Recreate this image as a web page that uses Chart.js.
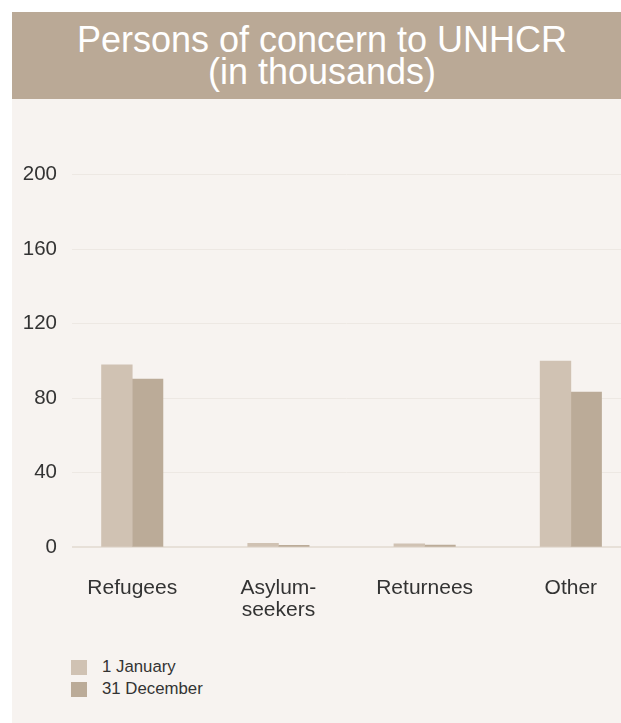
<!DOCTYPE html>
<html>
<head>
<meta charset="utf-8">
<script src="https://cdn.jsdelivr.net/npm/chart.js@4"></script>
<style>
body{margin:0;background:#fff;width:621px;height:723px;overflow:hidden;font-family:"Liberation Sans",Arial,sans-serif;}
#panel{position:absolute;left:12px;top:12px;width:609px;height:711px;background:#f7f3f0;}
#title{height:87px;background:#baa996;color:#fff;font-size:36px;line-height:32px;text-align:center;
display:flex;align-items:center;justify-content:center;padding-left:11px;box-sizing:border-box;}
#chartBox{position:absolute;left:0;top:87px;}
#legend{position:absolute;left:59px;top:647px;font-size:16.8px;color:#333;}
.item{position:relative;height:22px;}
.item span.box{position:absolute;left:0;top:1px;width:16px;height:15px;}
.item span.txt{position:absolute;left:31px;top:-1px;line-height:18px;white-space:nowrap;}
</style>
</head>
<body>
<div id="panel">
<div id="title"><div>Persons of concern to UNHCR<br>(in thousands)</div></div>
<div id="chartBox"><canvas id="chartConcern" width="609" height="540"></canvas></div>
<div id="legend"></div>
</div>
<script>

/* DONNEES */

const categories = ['Refugees', ['Asylum-','seekers'], 'Returnees', 'Other'];
const seriesNames = ['1 January', '31 December'];
const january = [98, 2.1, 1.8, 100];
const december = [90.3, 1.1, 1.2, 83.3];
const yTicks = [0, 40, 80, 120, 160, 200];

const COLORS = ['#d0c2b3', '#bbab98'];

let yFont = {family:'"Liberation Sans", Arial, sans-serif', size:20.5};
let xFont = {family:'"Liberation Sans", Arial, sans-serif', size:21, lineHeight:1.05};

function toPoints(values){
return values.map((v,i)=>({x:i, y:v}));
}

/* GRAPH */

let chart = new Chart(document.getElementById("chartConcern"),{

type:'bar',

data:{
datasets:[
{label:seriesNames[0], data:toPoints(january), backgroundColor:COLORS[0], barThickness:30.7},
{label:seriesNames[1], data:toPoints(december), backgroundColor:COLORS[1], barThickness:30.7}
]
},

options:{
responsive:false,
animation:false,
layout:{padding:{top:75.7, left:0, right:0, bottom:0}},

plugins:{
legend:{display:false},
tooltip:{enabled:false}
},

scales:{
x:{
type:'linear',
offset:false,
min:-0.412,
max:3.343,
grid:{display:false},
border:{display:false},
afterBuildTicks:(scale)=>{ scale.ticks = categories.map((c,i)=>({value:i})); },
afterFit:(scale)=>{ scale.height = 91.7; },
ticks:{
color:'#333',
font:xFont,
padding:22,
maxRotation:0,
autoSkip:false,
callback:(v)=>categories[v]
}
},
y:{
min:0,
max:200,
border:{display:false},
afterBuildTicks:(scale)=>{ scale.ticks = yTicks.map(v=>({value:v})); },
afterFit:(scale)=>{ scale.width = 60; },
grid:{
drawTicks:false,
color:(ctx)=> ctx.tick && ctx.tick.value===0 ? '#e7e0d8' : '#ede8e3',
lineWidth:(ctx)=> ctx.tick && ctx.tick.value===0 ? 2 : 1
},
ticks:{
color:'#333',
font:yFont,
padding:15
}
}
}

}

});

/* LEGENDE */

let legend = document.getElementById("legend");

chart.data.datasets.forEach(ds=>{

let item = document.createElement("div");
item.className = "item";
item.innerHTML = '<span class="box" style="background:'+ds.backgroundColor+'"></span><span class="txt">'+ds.label+'</span>';
legend.appendChild(item);

});

</script>
</body>
</html>
